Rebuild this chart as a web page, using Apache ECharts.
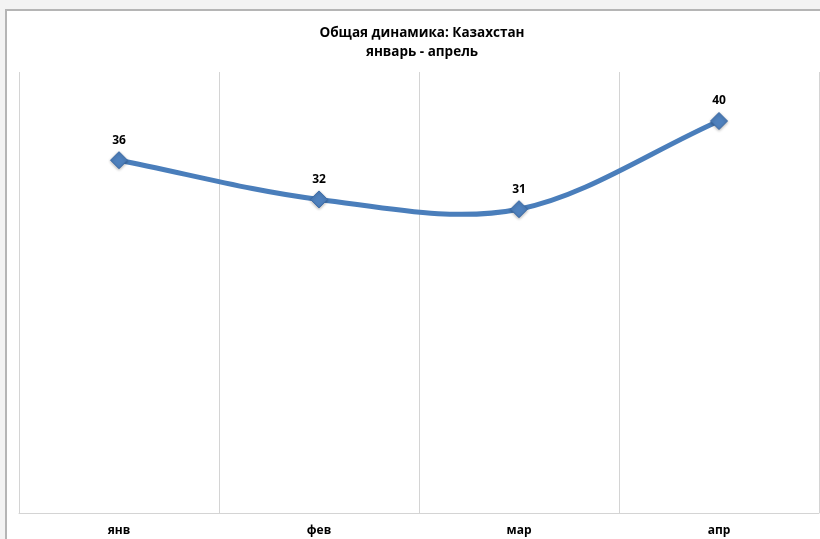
<!DOCTYPE html>
<html><head><meta charset="utf-8">
<script src="https://cdn.jsdelivr.net/npm/echarts@6/dist/echarts.min.js"></script>
<style>html,body{margin:0;padding:0;background:#f3f3f3;}#c{width:820px;height:539px;}</style>
</head><body><div id="c"></div>
<script>
var titleLines = ['Общая динамика: Казахстан', 'январь - апрель'];
var categories = ['янв', 'фев', 'мар', 'апр'];
var values = [36, 32, 31, 40];
var yMin = 0, yMax = 45;

var chart = echarts.init(document.getElementById('c'), null, {renderer: 'canvas'});
var font = '"Open Sans", sans-serif';

// Excel-style smoothed segment i -> i+1 (Catmull-Rom, endpoints use 1/3 of chord)
function renderSegment(params, api) {
  var i = params.dataIndex;
  var n = values.length;
  if (i >= n - 1) return null;
  var p = function (k) { return api.coord([k, values[k]]); };
  var p1 = p(i), p2 = p(i + 1);
  var c1, c2;
  if (i === 0) {
    c1 = [p1[0] + (p2[0] - p1[0]) / 3, p1[1] + (p2[1] - p1[1]) / 3];
  } else {
    var p0 = p(i - 1);
    c1 = [p1[0] + (p2[0] - p0[0]) / 6, p1[1] + (p2[1] - p0[1]) / 6];
  }
  if (i + 1 === n - 1) {
    c2 = [p2[0] - (p2[0] - p1[0]) / 3, p2[1] - (p2[1] - p1[1]) / 3];
  } else {
    var p3 = p(i + 2);
    c2 = [p2[0] - (p3[0] - p1[0]) / 6, p2[1] - (p3[1] - p1[1]) / 6];
  }
  return {
    type: 'bezierCurve',
    shape: {x1: p1[0], y1: p1[1], x2: p2[0], y2: p2[1], cpx1: c1[0], cpy1: c1[1], cpx2: c2[0], cpy2: c2[1]},
    style: {stroke: '#4a7ebb', lineWidth: 5, fill: null, lineCap: 'round'}
  };
}

chart.setOption({
  backgroundColor: '#f3f3f3',
  animation: false,
  graphic: [{
    type: 'rect', z: -10, silent: true,
    shape: {x: 6, y: 10, width: 840, height: 560},
    style: {fill: '#ffffff', stroke: '#b5b5b5', lineWidth: 2}
  }],
  title: {
    text: titleLines.join('\n'),
    left: 417, top: 19, textAlign: 'center',
    textStyle: {fontFamily: font, fontSize: 13.5, fontWeight: 'bold', color: '#000', lineHeight: 19}
  },
  grid: {left: 19, right: 1, top: 72, bottom: 26, containLabel: false},
  xAxis: {
    type: 'category', data: categories, boundaryGap: true,
    axisLine: {show: true, lineStyle: {color: '#d4d4d4', width: 1}},
    axisTick: {show: false},
    axisLabel: {fontFamily: font, fontSize: 12, fontWeight: 'bold', color: '#000', margin: 12},
    splitLine: {show: true, lineStyle: {color: '#d4d4d4', width: 1}}
  },
  yAxis: {
    type: 'value', min: yMin, max: yMax,
    axisLine: {show: false}, axisTick: {show: false}, axisLabel: {show: false},
    splitLine: {show: false}
  },
  series: [{
    type: 'custom', z: 2, silent: true,
    data: values.map(function (v, k) { return [k, v]; }),
    encode: {x: 0, y: 1},
    renderItem: renderSegment
  }, {
    type: 'line', data: values, z: 3,
    symbol: 'diamond', symbolSize: 17,
    lineStyle: {width: 0, opacity: 0},
    itemStyle: {color: '#4f81bd', borderColor: '#3a6aa8', borderWidth: 1,
      shadowColor: 'rgba(0,0,0,0.3)', shadowBlur: 3, shadowOffsetY: 1},
    label: {show: true, position: 'top', distance: 5,
      fontFamily: font, fontSize: 12, fontWeight: 'bold', color: '#000'}
  }]
});
</script></body></html>
